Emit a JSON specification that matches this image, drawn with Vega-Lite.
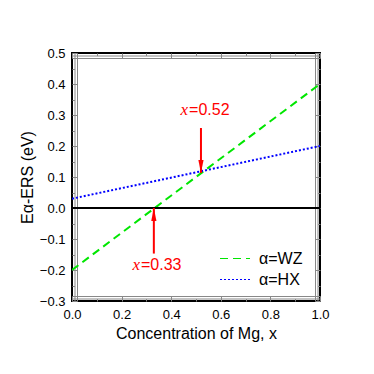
{
  "$schema": "https://vega.github.io/schema/vega-lite/v6.json",
  "width": 248,
  "height": 248,
  "autosize": {"type": "none"},
  "padding": {"left": 72, "top": 53, "right": 54, "bottom": 73},
  "config": {
    "view": {"stroke": "black", "strokeWidth": 2},
    "font": "Liberation Sans",
    "axis": {
      "grid": false,
      "labelFlush": false,
      "labelOverlap": false,
      "labelColor": "black",
      "labelFont": "Liberation Sans",
      "labelFontSize": 13,
      "titleFont": "Liberation Sans",
      "titleFontSize": 16,
      "titleFontWeight": "normal",
      "titleColor": "black"
    },
    "legend": {
      "labelFont": "Liberation Sans",
      "labelFontSize": 16,
      "labelColor": "black"
    }
  },
  "datasets": {
    "lines": [
      {"x": 0, "y": -0.2, "series": "α=WZ"},
      {"x": 1, "y": 0.4, "series": "α=WZ"},
      {"x": 0, "y": 0.03, "series": "α=HX"},
      {"x": 1, "y": 0.2, "series": "α=HX"}
    ],
    "zero": [{"x": 0, "y": 0}, {"x": 1, "y": 0}],
    "arrows": [
      {"x": 0.52, "y1": 0.258, "y2": 0.113, "dir": "down"},
      {"x": 0.33, "y1": -0.147, "y2": 0.0, "dir": "up"}
    ],
    "labels": [
      {"x": 0.472, "y": 0.316, "v": "=0.52"},
      {"x": 0.278, "y": -0.184, "v": "=0.33"}
    ]
  },
  "layer": [
    {
      "data": {"name": "lines"},
      "mark": {"type": "line", "strokeWidth": 2, "clip": true},
      "encoding": {
        "x": {
          "field": "x", "type": "quantitative",
          "scale": {"domain": [0, 1], "nice": false, "zero": false},
          "axis": {"orient": "bottom", "title": "Concentration of Mg, x", "values": [0, 0.2, 0.4, 0.6, 0.8, 1.0], "format": ".1f", "offset": -5, "tickSize": 5, "labelPadding": 7, "titlePadding": 4}
        },
        "y": {
          "field": "y", "type": "quantitative",
          "scale": {"domain": [-0.3, 0.5], "nice": false, "zero": false},
          "axis": {"orient": "left", "title": "Eα-ERS (eV)", "values": [-0.3, -0.2, -0.1, 0, 0.1, 0.2, 0.3, 0.4, 0.5], "format": ".1f", "offset": -5, "tickSize": 5, "labelPadding": 7, "titlePadding": 4}
        },
        "color": {
          "field": "series", "type": "nominal",
          "scale": {"domain": ["α=WZ", "α=HX"], "range": ["#00e600", "#0000ff"]},
          "legend": {
            "title": null, "orient": "none", "legendX": 147, "legendY": 197,
            "symbolType": "stroke", "symbolSize": 900, "symbolStrokeWidth": 1.2,
            "clipHeight": 17, "labelOffset": 8, "padding": 0, "rowPadding": 4
          }
        },
        "strokeDash": {
          "field": "series", "type": "nominal",
          "scale": {"domain": ["α=WZ", "α=HX"], "range": [[8, 5], [2, 2]]},
          "legend": {
            "title": null, "orient": "none", "legendX": 147, "legendY": 197,
            "symbolType": "stroke", "symbolSize": 900, "symbolStrokeWidth": 1.2,
            "clipHeight": 17, "labelOffset": 8, "padding": 0, "rowPadding": 4
          }
        }
      }
    },
    {
      "data": {"name": "zero"},
      "mark": {"type": "line", "color": "black", "strokeWidth": 2},
      "encoding": {
        "x": {"field": "x", "type": "quantitative", "axis": {"orient": "top", "title": null, "labels": false, "values": [0, 0.2, 0.4, 0.6, 0.8, 1.0], "offset": -5, "tickSize": 5}},
        "y": {"field": "y", "type": "quantitative", "axis": {"orient": "right", "title": null, "labels": false, "values": [-0.3, -0.2, -0.1, 0, 0.1, 0.2, 0.3, 0.4, 0.5], "offset": -5, "tickSize": 5}}
      }
    },
    {
      "data": {"name": "arrows"},
      "mark": {"type": "rule", "color": "#ff0000", "strokeWidth": 2},
      "encoding": {
        "x": {"field": "x", "type": "quantitative", "axis": {"orient": "bottom", "title": null, "labels": false, "values": [0.1, 0.3, 0.5, 0.7, 0.9], "offset": -2.5, "tickSize": 2.5}},
        "y": {"field": "y1", "type": "quantitative", "axis": {"orient": "left", "title": null, "labels": false, "values": [-0.25, -0.15, -0.05, 0.05, 0.15, 0.25, 0.35, 0.45], "offset": -2.5, "tickSize": 2.5}},
        "y2": {"field": "y2"}
      }
    },
    {
      "data": {"name": "arrows"},
      "transform": [{"filter": "datum.dir == 'down'"}],
      "mark": {"type": "point", "filled": true, "color": "#ff0000", "opacity": 1, "shape": "M-0.4,-1L0.4,-1L0,1Z", "size": 169, "yOffset": -6.5},
      "encoding": {
        "x": {"field": "x", "type": "quantitative", "axis": {"orient": "top", "title": null, "labels": false, "values": [0.1, 0.3, 0.5, 0.7, 0.9], "offset": -2.5, "tickSize": 2.5}},
        "y": {"field": "y2", "type": "quantitative", "axis": {"orient": "right", "title": null, "labels": false, "values": [-0.25, -0.15, -0.05, 0.05, 0.15, 0.25, 0.35, 0.45], "offset": -2.5, "tickSize": 2.5}}
      }
    },
    {
      "data": {"name": "arrows"},
      "transform": [{"filter": "datum.dir == 'up'"}],
      "mark": {"type": "point", "filled": true, "color": "#ff0000", "opacity": 1, "shape": "M-0.4,1L0.4,1L0,-1Z", "size": 169, "yOffset": 6.5},
      "encoding": {
        "x": {"field": "x", "type": "quantitative", "axis": null},
        "y": {"field": "y2", "type": "quantitative", "axis": null}
      }
    },
    {
      "data": {"name": "labels"},
      "mark": {"type": "text", "align": "right", "baseline": "middle", "font": "Liberation Serif", "fontStyle": "italic", "fontSize": 17, "color": "#ff0000", "text": "x", "dx": -1},
      "encoding": {
        "x": {"field": "x", "type": "quantitative", "axis": null},
        "y": {"field": "y", "type": "quantitative", "axis": null}
      }
    },
    {
      "data": {"name": "labels"},
      "mark": {"type": "text", "align": "left", "baseline": "middle", "font": "Liberation Sans", "fontSize": 16, "color": "#ff0000"},
      "encoding": {
        "x": {"field": "x", "type": "quantitative", "axis": null},
        "y": {"field": "y", "type": "quantitative", "axis": null},
        "text": {"field": "v"}
      }
    }
  ],
  "resolve": {"axis": {"x": "independent", "y": "independent"}}
}
